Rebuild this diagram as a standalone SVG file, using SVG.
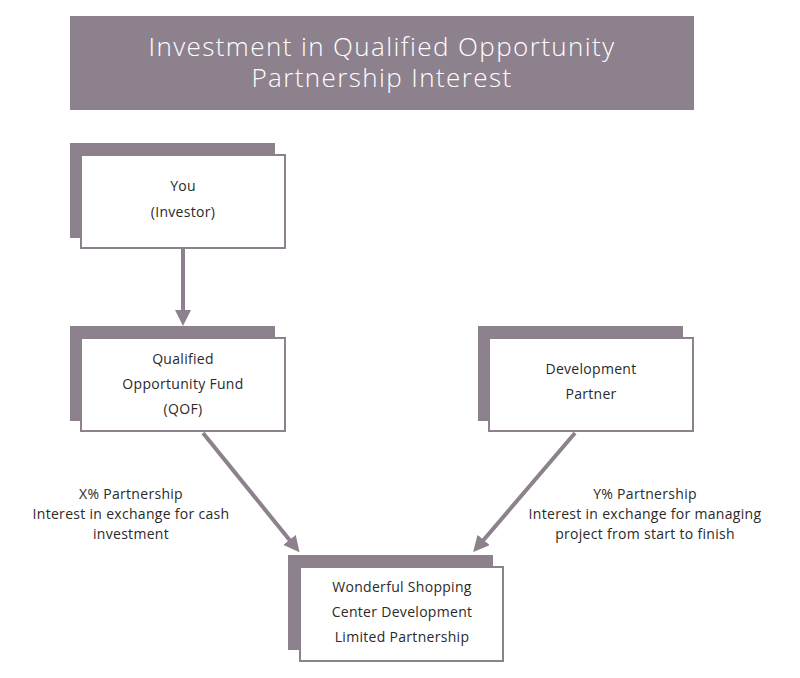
<svg xmlns="http://www.w3.org/2000/svg" width="800" height="678" viewBox="0 0 800 678">
<style>
.shadow{fill:#8e818e}
.box{fill:#fff;stroke:#8e818e;stroke-width:2}
.t{font-family:"Open Sans","Liberation Sans",sans-serif;font-size:14px;font-weight:400;fill:#2a2a2a;text-anchor:middle;letter-spacing:0.3px}
.title{font-family:"Open Sans","Liberation Sans",sans-serif;font-size:26px;font-weight:300;fill:#fff;text-anchor:middle;letter-spacing:1.4px}
.conn{stroke:#8e818e;stroke-width:4;fill:none}
</style>
<defs>
<marker id="ah" markerWidth="4" markerHeight="4" refX="1" refY="2" orient="auto" markerUnits="strokeWidth" viewBox="0 0 4 4">
<path d="M0,0 L4,2 L0,4 Z" fill="#8e818e"/>
</marker>
</defs>
<rect x="0" y="0" width="800" height="678" fill="#fff"/>
<g id="title">
<rect x="70" y="16" width="624" height="94" fill="#8e818e"/>
<text class="title" x="382" y="56">Investment in Qualified Opportunity</text>
<text class="title" x="382" y="87">Partnership Interest</text>
</g>
<g id="connectors">
<line class="conn" x1="183" y1="249" x2="183" y2="314" marker-end="url(#ah)"/>
<line class="conn" x1="203" y1="433" x2="292" y2="543" marker-end="url(#ah)"/>
<line class="conn" x1="575" y1="433" x2="481" y2="543" marker-end="url(#ah)"/>
</g>
<g id="you">
<rect class="shadow" x="70" y="143" width="205" height="95"/>
<rect class="box" x="81" y="155" width="204" height="93"/>
<text class="t" x="183" y="191">You</text>
<text class="t" x="183" y="217">(Investor)</text>
</g>
<g id="qof">
<rect class="shadow" x="70" y="326" width="205" height="95"/>
<rect class="box" x="81" y="338" width="204" height="93"/>
<text class="t" x="183" y="364">Qualified</text>
<text class="t" x="183" y="389">Opportunity Fund</text>
<text class="t" x="183" y="414">(QOF)</text>
</g>
<g id="devpartner">
<rect class="shadow" x="478" y="326" width="205" height="95"/>
<rect class="box" x="489" y="338" width="204" height="93"/>
<text class="t" x="591" y="374">Development</text>
<text class="t" x="591" y="399">Partner</text>
</g>
<g id="wonderful">
<rect class="shadow" x="288" y="555" width="205" height="95"/>
<rect class="box" x="300" y="567" width="203" height="94"/>
<text class="t" x="402" y="592">Wonderful Shopping</text>
<text class="t" x="402" y="617">Center Development</text>
<text class="t" x="402" y="642">Limited Partnership</text>
</g>
<g id="label-x">
<text class="t" x="131" y="499">X% Partnership</text>
<text class="t" x="131" y="519">Interest in exchange for cash</text>
<text class="t" x="131" y="539">investment</text>
</g>
<g id="label-y">
<text class="t" x="645" y="499">Y% Partnership</text>
<text class="t" x="645" y="519">Interest in exchange for managing</text>
<text class="t" x="645" y="539">project from start to finish</text>
</g>
</svg>
